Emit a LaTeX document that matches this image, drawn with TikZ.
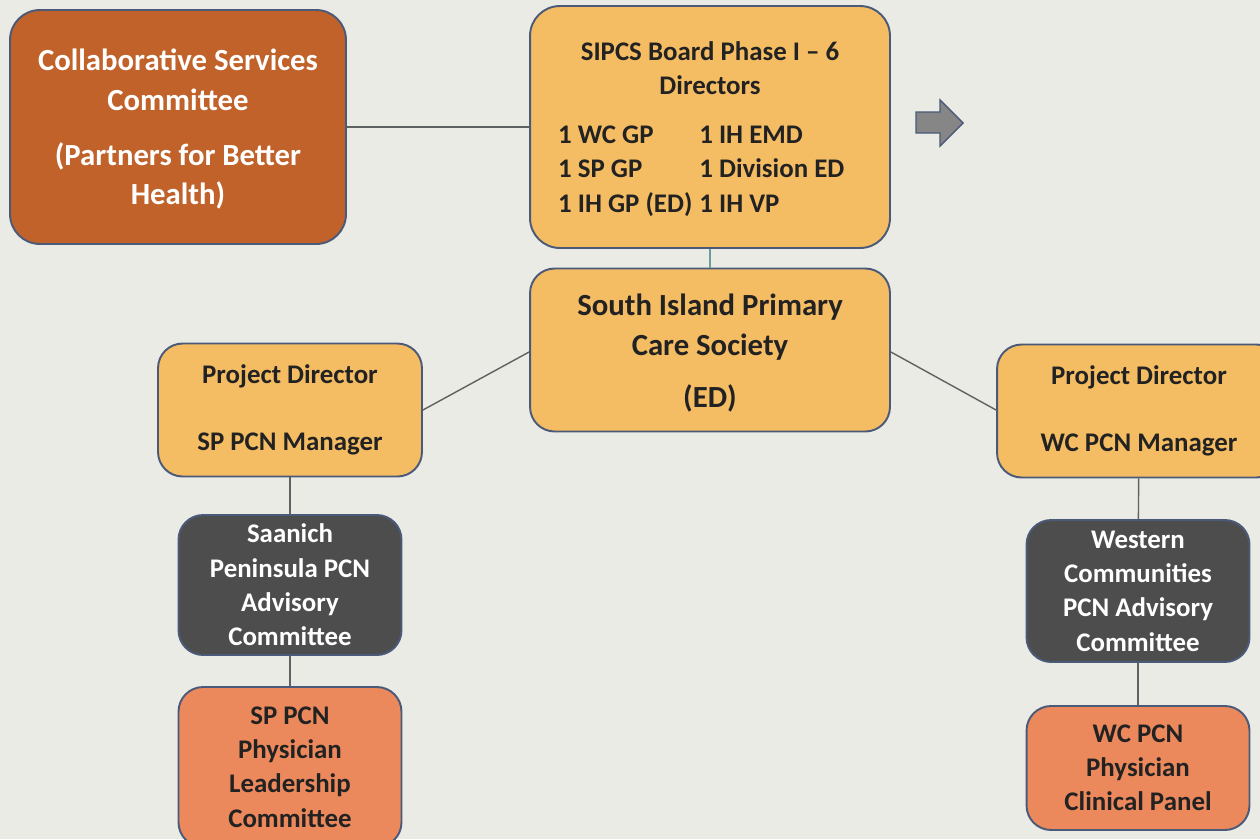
\documentclass[tikz,border=0pt]{standalone}
\usepackage{fontspec}
\setmainfont{Carlito}
\usepackage{tikz}

\definecolor{bg}{HTML}{EAEBE5}
\definecolor{rust}{HTML}{C0622A}
\definecolor{gold}{HTML}{F5BD63}
\definecolor{slate}{HTML}{4D4D4D}
\definecolor{salmon}{HTML}{EC895C}
\definecolor{edge}{HTML}{4A5A78}
\definecolor{ink}{HTML}{222222}
\definecolor{link}{HTML}{5F6262}
\definecolor{tealink}{HTML}{6A9E9E}

\begin{document}
\begin{tikzpicture}[x=0.02cm, y=-0.02cm,
    box/.style = {draw=edge, line width=1.1pt, rounded corners=14pt, align=center, inner sep=0pt},
    big/.style = {box, font=\fontsize{17.5}{22.6}\selectfont\bfseries},
    small/.style = {box, font=\fontsize{15.3}{19.5}\selectfont\bfseries},
    conn/.style = {draw=link, line width=0.8pt}]
    \useasboundingbox (0,0) rectangle (1260,839);
    \clip (0,0) rectangle (1260,839);
    \fill[bg] (0,0) rectangle (1260,839);

    \node[big, fill=rust, text=white, minimum width=6.72cm, minimum height=4.68cm, rounded corners=17pt] (csc) at (178,127)
        {\rule{0pt}{15pt}Collaborative Services\\Committee\\[8.5pt](Partners for Better\\Health)};
    \node[small, fill=gold, text=ink, minimum width=7.2cm, minimum height=4.84cm, rounded corners=17pt] (board) at (710,127)
        {\rule{0pt}{16.5pt}SIPCS Board Phase I -- 6\\Directors\\[13pt]
         \hspace*{-10pt}\begin{tabular}{@{}l@{\hspace{4pt}}l@{}}
         1 WC GP & 1 IH EMD\\
         1 SP GP & 1 Division ED\\
         1 IH GP (ED) & 1 IH VP
         \end{tabular}};
    \node[big, fill=gold, text=ink, minimum width=7.2cm, minimum height=3.26cm] (society) at (710,350)
        {\rule{0pt}{16pt}South Island Primary\\Care Society\\[7.4pt](ED)};

    \node[small, fill=gold, text=ink, minimum width=5.28cm, minimum height=2.66cm] (pdsp) at (290,410)
        {Project Director\\[19pt]SP PCN Manager};
    \node[small, fill=gold, text=ink, minimum width=5.68cm, minimum height=2.66cm] (pdwc) at (1139,411)
        {Project Director\\[19pt]WC PCN Manager};

    \node[small, fill=slate, text=white, minimum width=4.46cm, minimum height=2.8cm] (spadv) at (290,585)
        {Saanich\\Peninsula PCN\\Advisory\\Committee};
    \node[small, fill=salmon, text=ink, minimum width=4.46cm, minimum height=3.2cm] (spphys) at (290,767)
        {SP PCN\\Physician\\Leadership\\Committee};

    \node[small, fill=slate, text=white, minimum width=4.46cm, minimum height=2.84cm] (wcadv) at (1138,591)
        {Western\\Communities\\PCN Advisory\\Committee};
    \node[small, fill=salmon, text=ink, minimum width=4.46cm, minimum height=2.48cm] (wcphys) at (1138,768)
        {WC PCN\\Physician\\Clinical Panel};

    % block arrow next to the board
    \filldraw[fill=gray!95, draw=edge, line width=0.8pt] (916,112) -- (940,112) -- (940,100) -- (963,123)
        -- (940,146) -- (940,133) -- (916,133) -- cycle;

\draw[conn] (csc) -- (board);
\draw[conn, draw=tealink] (board) -- (society);
\draw[conn] (society.west |- 0,352) -- (pdsp.east |- 0,410);
\draw[conn] (society.east |- 0,352) -- (pdwc.west |- 0,410);
\draw[conn] (pdsp) -- (spadv);
\draw[conn] (spadv) -- (spphys);
\draw[conn] (pdwc) -- (wcadv);
\draw[conn] (wcadv) -- (wcphys);

\end{tikzpicture}
\end{document}
